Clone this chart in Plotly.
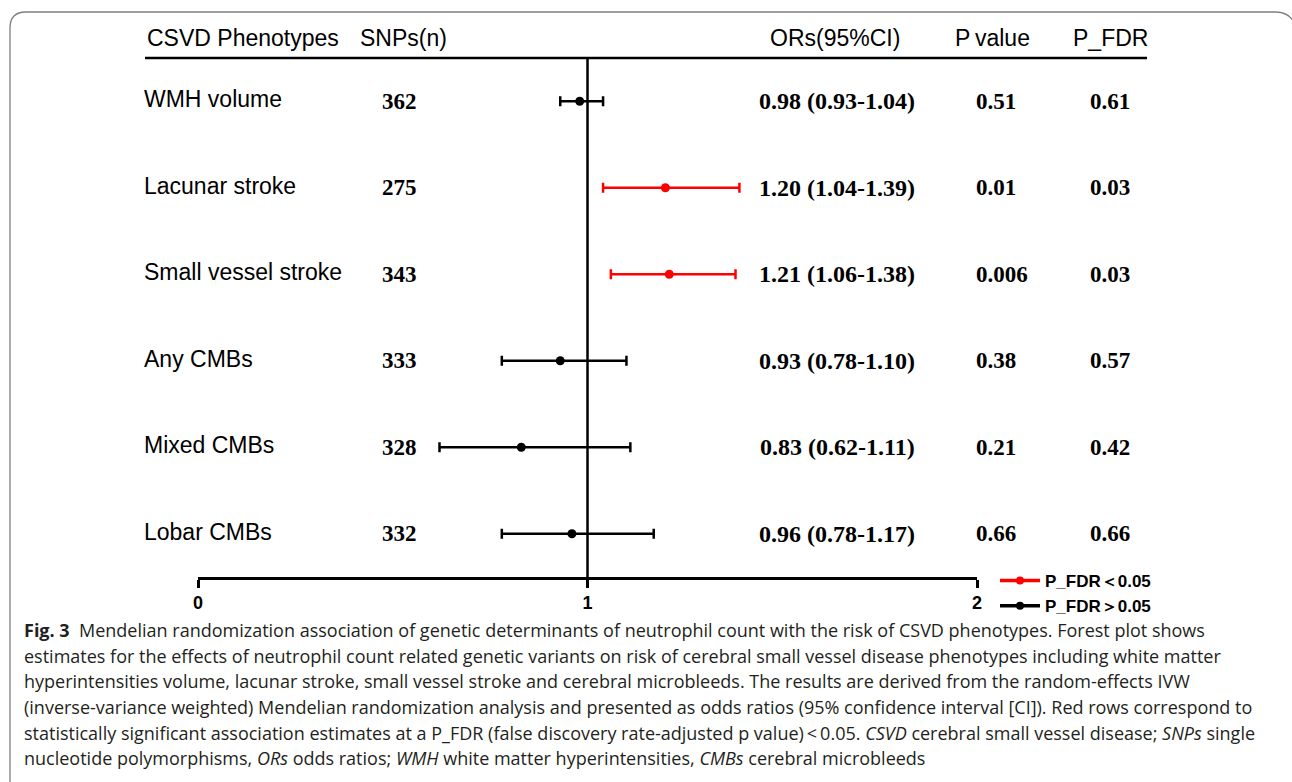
import plotly.graph_objects as go

phenotypes = ["WMH volume", "Lacunar stroke", "Small vessel stroke", "Any CMBs", "Mixed CMBs", "Lobar CMBs"]
snps = [362, 275, 343, 333, 328, 332]
ors = [0.98, 1.20, 1.21, 0.93, 0.83, 0.96]
ci_lo = [0.93, 1.04, 1.06, 0.78, 0.62, 0.78]
ci_hi = [1.04, 1.39, 1.38, 1.10, 1.11, 1.17]
p_value = ["0.51", "0.01", "0.006", "0.38", "0.21", "0.66"]
p_fdr = ["0.61", "0.03", "0.03", "0.57", "0.42", "0.66"]
x_ticks = [0, 1, 2]
headers = ["CSVD Phenotypes", "SNPs(n)", "ORs(95%CI)", "P\u2009value", "P_FDR"]
legend_labels = ["P_FDR\uff1c0.05", "P_FDR\uff1e0.05"]
caption_lines = [
    "<b>Fig. 3</b>  Mendelian randomization association of genetic determinants of neutrophil count with the risk of CSVD phenotypes. Forest plot shows",
    "estimates for the effects of neutrophil count related genetic variants on risk of cerebral small vessel disease phenotypes including white matter",
    "hyperintensities volume, lacunar stroke, small vessel stroke and cerebral microbleeds. The results are derived from the random-effects IVW",
    "(inverse-variance weighted) Mendelian randomization analysis and presented as odds ratios (95% confidence interval [CI]). Red rows correspond to",
    "statistically significant association estimates at a P_FDR (false discovery rate-adjusted p value)\u2009<\u20090.05. <i>CSVD</i> cerebral small vessel disease; <i>SNPs</i> single",
    "nucleotide polymorphisms, <i>ORs</i> odds ratios; <i>WMH</i> white matter hyperintensities, <i>CMBs</i> cerebral microbleeds",
]

W, H = 1292, 782
L, R, T, B = 198, 977, 58, 577


def px2x(px):
    return (px - L) / (R - L)


def py2y(py):
    return (B - py) / (B - T)


RED = "#ff0000"
BLACK = "#000000"
rows = list(range(len(phenotypes)))
sig = [float(f) < 0.05 for f in p_fdr]

fig = go.Figure()
for flag, col in [(True, RED), (False, BLACK)]:
    idx = [i for i in rows if sig[i] == flag]
    fig.add_trace(go.Scatter(
        x=[ors[i] for i in idx],
        y=[rows[i] for i in idx],
        mode="markers",
        marker=dict(color=col, size=9),
        error_x=dict(type="data", symmetric=False,
                     array=[ci_hi[i] - ors[i] for i in idx],
                     arrayminus=[ors[i] - ci_lo[i] for i in idx],
                     color=col, thickness=2.5, width=5),
        showlegend=False, hoverinfo="skip",
    ))

for lab, col in zip(legend_labels, [RED, BLACK]):
    fig.add_trace(go.Scatter(x=[None], y=[None], mode="lines+markers", name=lab,
                             line=dict(color=col, width=3.5), marker=dict(color=col, size=8)))

ann = []
sans = "Liberation Sans, Arial, sans-serif"
serif = "Liberation Serif, Times New Roman, serif"
# headers
hdr_pos = [(145, "left"), (358, "left"), (835, "center"), (992, "center"), (1110, "center")]
for txt, (px, anc) in zip(headers, hdr_pos):
    ann.append(dict(x=px2x(px), y=py2y(38), xref="paper", yref="paper", text=txt,
                    xanchor=anc, yanchor="middle", showarrow=False,
                    font=dict(family=sans, size=23, color=BLACK)))

for i in rows:
    ann.append(dict(x=px2x(142), y=rows[i], xref="paper", yref="y", text=phenotypes[i],
                    xanchor="left", yanchor="middle", showarrow=False, yshift=2,
                    font=dict(family=sans, size=23, color=BLACK)))
    ann.append(dict(x=px2x(380), y=rows[i], xref="paper", yref="y", text=f"<b>{snps[i]}</b>",
                    xanchor="left", yanchor="middle", showarrow=False,
                    font=dict(family=serif, size=23, color=BLACK)))
    ann.append(dict(x=px2x(837), y=rows[i], xref="paper", yref="y",
                    text=f"<b>{ors[i]:.2f} ({ci_lo[i]:.2f}-{ci_hi[i]:.2f})</b>",
                    xanchor="center", yanchor="middle", showarrow=False,
                    font=dict(family=serif, size=24, color=BLACK)))
    ann.append(dict(x=px2x(974), y=rows[i], xref="paper", yref="y", text=f"<b>{p_value[i]}</b>",
                    xanchor="left", yanchor="middle", showarrow=False,
                    font=dict(family=serif, size=23, color=BLACK)))
    ann.append(dict(x=px2x(1088), y=rows[i], xref="paper", yref="y", text=f"<b>{p_fdr[i]}</b>",
                    xanchor="left", yanchor="middle", showarrow=False,
                    font=dict(family=serif, size=23, color=BLACK)))

cap_y = [630, 656, 681, 707, 733, 758]
for txt, py in zip(caption_lines, cap_y):
    ann.append(dict(x=px2x(22), y=py2y(py), xref="paper", yref="paper", text=txt,
                    xanchor="left", yanchor="middle", showarrow=False,
                    font=dict(family="Open Sans, sans-serif", size=18, color="#231f20")))

# border path (rounded corners)
def P(px, py):
    return f"{px2x(px)},{py2y(py)}"

border = (f"M {P(10, 790)} L {P(10, 28)} Q {P(10, 12)} {P(26, 12)} "
          f"L {P(1276, 12)} Q {P(1288, 12)} {P(1294, 22)}")

shapes = [
    dict(type="path", xref="paper", yref="paper", path=border,
         line=dict(color="#7f7f7f", width=1.3)),
    dict(type="line", xref="paper", yref="paper", x0=px2x(145), x1=px2x(1147),
         y0=1, y1=1, line=dict(color=BLACK, width=2.5)),
    dict(type="line", xref="x", yref="paper", x0=1, x1=1, y0=0, y1=1,
         line=dict(color=BLACK, width=2.5)),
]

fig.update_layout(
    width=W, height=H,
    margin=dict(l=L, r=W - R, t=T, b=H - B),
    paper_bgcolor="white", plot_bgcolor="white",
    xaxis=dict(range=[0, 2], tickvals=x_ticks, ticktext=[str(v) for v in x_ticks],
               showgrid=False, zeroline=False, showline=True, linecolor=BLACK, linewidth=2.5,
               ticks="outside", ticklen=8, tickwidth=2.5, tickcolor=BLACK,
               tickfont=dict(family=sans, size=18, color=BLACK, weight="bold")),
    yaxis=dict(range=[len(phenotypes) - 0.5, -0.5], showgrid=False, zeroline=False,
               showticklabels=False, showline=False, ticks=""),
    legend=dict(x=px2x(995), y=py2y(563), xanchor="left", yanchor="top",
                bgcolor="rgba(0,0,0,0)", tracegroupgap=0, itemwidth=40,
                font=dict(family=sans, size=17, color=BLACK, weight="bold")),
    annotations=ann, shapes=shapes,
)

fig.write_html("out.html")
